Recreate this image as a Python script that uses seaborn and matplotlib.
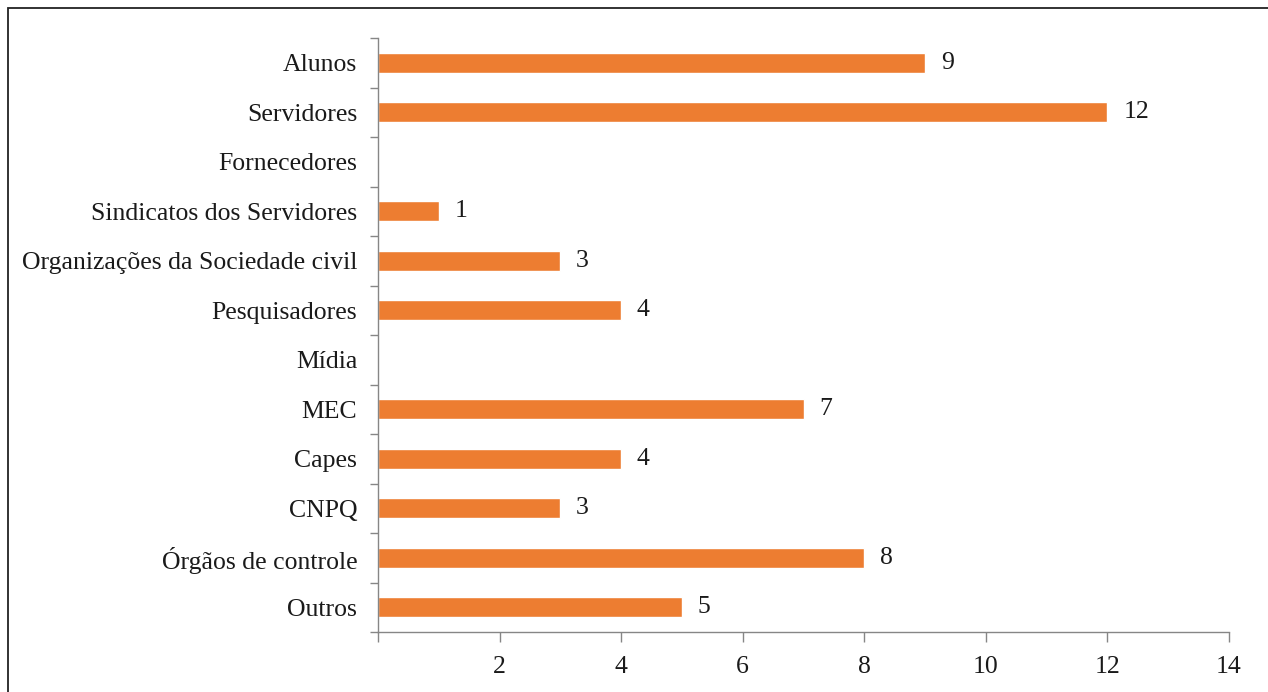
import matplotlib
matplotlib.use("Agg")
import matplotlib.pyplot as plt
import numpy as np
import pandas as pd
import seaborn as sns

categories = ["Alunos", "Servidores", "Fornecedores", "Sindicatos dos Servidores",
              "Organizações da Sociedade civil", "Pesquisadores", "Mídia", "MEC",
              "Capes", "CNPQ", "Órgãos de controle", "Outros"]
values = [9, 12, np.nan, 1, 3, 4, np.nan, 7, 4, 3, 8, 5]
x_ticks = [0, 2, 4, 6, 8, 10, 12, 14]
x_labels = ["", "2", "4", "6", "8", "10", "12", "14"]

df = pd.DataFrame({"categoria": categories, "valor": values})

sns.set_style("white")
plt.rcParams["font.family"] = ["Liberation Serif", "DejaVu Serif"]

fig = plt.figure(figsize=(12.68, 6.92), dpi=100)
ax = fig.add_axes([378 / 1268, 1 - 632 / 692, (1229 - 378) / 1268, (632 - 38) / 692])

sns.barplot(data=df, x="valor", y="categoria", orient="h", color="#ED7D31",
            saturation=1, width=0.40, ax=ax)

# value labels next to each bar
for i, v in enumerate(values):
    if not np.isnan(v):
        ax.text(v + 0.26, i, f"{v:g}", va="center", ha="left", fontsize=18.5, color="#1a1a1a")

gray = "#868686"
ax.set_xlim(0, 14)
ax.set_ylim(len(categories) - 0.5, -0.5)
ax.set_xticks(x_ticks)
ax.set_xticklabels(x_labels)
ax.set_yticks(range(len(categories)))
ax.set_yticklabels(categories)
ax.set_yticks(np.arange(-0.5, len(categories)), minor=True)
ax.tick_params(axis="y", which="major", left=True, length=0, pad=15, labelsize=18.5,
               labelcolor="#1a1a1a")
ax.tick_params(axis="y", which="minor", left=True, length=6, width=1, color=gray,
               direction="out")
ax.tick_params(axis="x", which="major", bottom=True, length=7, width=1, color=gray,
               direction="out", pad=10, labelsize=18.5, labelcolor="#1a1a1a")
ax.set_xlabel("")
ax.set_ylabel("")

for side in ["top", "right"]:
    ax.spines[side].set_visible(False)
for side in ["left", "bottom"]:
    ax.spines[side].set_color(gray)
    ax.spines[side].set_linewidth(1)

# outer frame
frame = plt.Rectangle((8 / 1268, -0.05), 1.1, 1 - 8 / 692 + 0.05, transform=fig.transFigure,
                      fill=False, edgecolor="#222222", linewidth=1.3)
fig.patches.append(frame)

fig.savefig("out.png", dpi=100)
